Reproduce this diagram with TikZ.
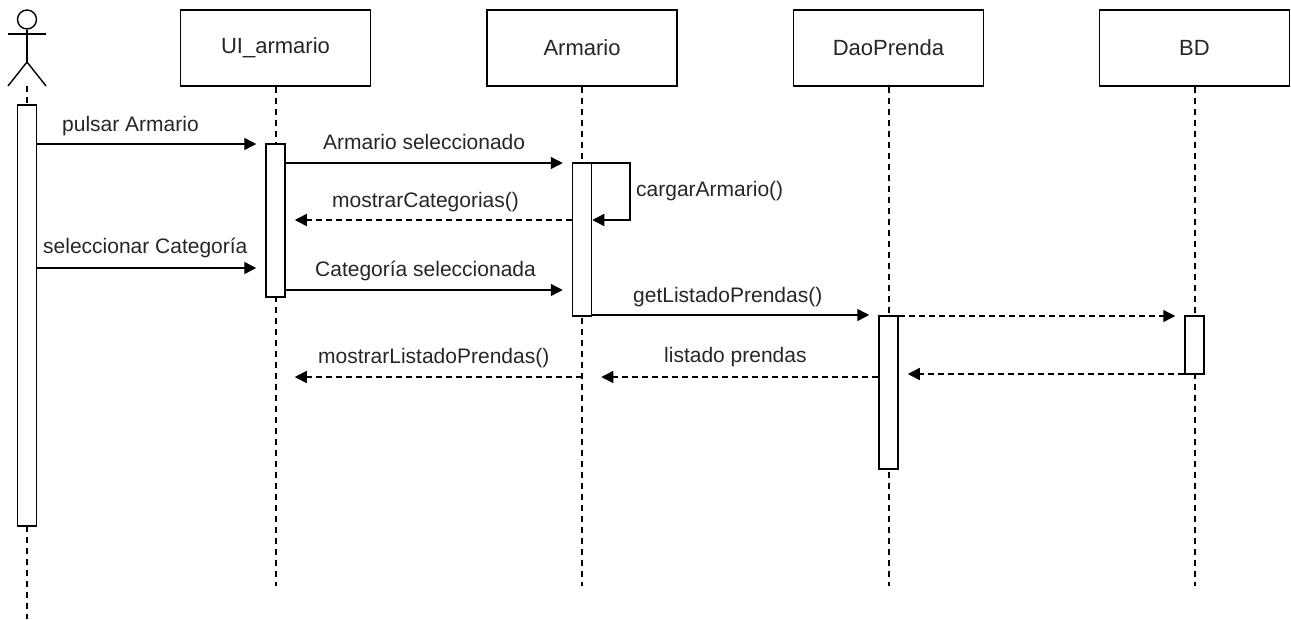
\documentclass[tikz,border=0pt]{standalone}
\usepackage{fontspec}
\setmainfont{Liberation Sans}
\usetikzlibrary{arrows.meta}
\begin{document}
\begin{tikzpicture}[x=1pt,y=-1pt,
  every node/.style={font=\fontsize{21}{25}\selectfont, text=black!85, inner sep=0pt},
  header/.style={draw, line width=1.5pt, minimum width=190pt, minimum height=76pt, fill=white,
    font=\fontsize{22}{26}\selectfont},
  act/.style={draw, line width=1.5pt, fill=white, minimum width=19pt},
  lifeline/.style={line width=2pt, dash pattern=on 6pt off 5pt},
  msg/.style={line width=1.4pt, -{Triangle[length=12pt,width=12pt]}, shorten >=9pt},
  selfmsg/.style={msg, shorten >=0pt},
  reply/.style={msg, dash pattern=on 6pt off 4pt},
  lbl/.style={anchor=base west}]
\useasboundingbox (0,0) rectangle (1291,619);

% actor
\node[circle, draw, line width=1.4pt, minimum size=19pt] (head) at (27,19.5) {};
\draw[line width=1.4pt] (8,34) -- (46,34);
\draw[line width=1.4pt] (head.south) -- (27,62) coordinate (hip);
\draw[line width=1.4pt] (8,86) -- (hip) -- (46,86) coordinate (foot);
\coordinate (actTop) at (27,86);

% header boxes
\node[header] (ui) at (275.5,48) {UI\_armario};
\node[header] (arm) at (582,48) {Armario};
\node[header] (dao) at (888.5,48) {DaoPrenda};
\node[header] (bd) at (1194.5,48) {BD};

% lifeline ends
\coordinate (uiEnd) at (275.5,586);
\coordinate (armEnd) at (582,586);
\coordinate (daoEnd) at (888.5,586);
\coordinate (bdEnd) at (1194.5,586);
\coordinate (actEnd) at (27,619);

\draw[lifeline] (actTop) -- (actEnd);
\draw[lifeline] (ui.south) -- (uiEnd);
\draw[lifeline] (arm.south) -- (armEnd);
\draw[lifeline] (dao.south) -- (daoEnd);
\draw[lifeline] (bd.south) -- (bdEnd);

% activation bars
\node[act, minimum height=421pt] (actA) at (27,315.5) {};
\node[act, minimum height=153pt] (uiA) at (275.5,220.5) {};
\node[act, minimum height=153pt] (armA) at (582,239.5) {};
\node[act, minimum height=153pt] (daoA) at (888.5,392.5) {};
\node[act, minimum height=58pt] (bdA) at (1194.5,345) {};

% messages
\draw[msg] (actA.east |- 0,144) -- (uiA.west |- 0,144);
\node[lbl] (m1) at (62,131) {pulsar Armario};

\draw[msg] (uiA.east |- 0,163) -- (armA.west |- 0,163);
\node[lbl] (m2) at (323,149) {Armario seleccionado};

\coordinate (selfA) at (630,163);
\coordinate (selfB) at (630,220);
\draw[selfmsg] (armA.east |- 0,163) -- (selfA) -- (selfB) -- (armA.east |- 0,220);
\node[lbl] (m3) at (636,196) {cargarArmario()};

\draw[reply] (armA.west |- 0,220) -- (uiA.east |- 0,220);
\node[lbl] (m4) at (332,207) {mostrarCategorias()};

\draw[msg] (actA.east |- 0,268) -- (uiA.west |- 0,268);
\node[lbl] (m5) at (43,253) {seleccionar Categoría};

\draw[msg] (uiA.east |- 0,290) -- (armA.west |- 0,290);
\node[lbl] (m6) at (315,276) {Categoría seleccionada};

\draw[msg] (armA.east |- 0,315) -- (daoA.west |- 0,315);
\node[lbl] (m7) at (633,302) {getListadoPrendas()};

\draw[reply] (daoA.east |- 0,316) -- (bdA.west |- 0,316);
\draw[reply] (bdA.west |- 0,374) -- (daoA.east |- 0,374);

\draw[reply] (daoA.west |- 0,377) -- (armA.east |- 0,377);
\node[lbl] (m8) at (664,362) {listado prendas};

\draw[reply] (armA.center |- 0,377) -- (uiA.east |- 0,377);
\node[lbl] (m9) at (318,363) {mostrarListadoPrendas()};
\end{tikzpicture}
\end{document}
